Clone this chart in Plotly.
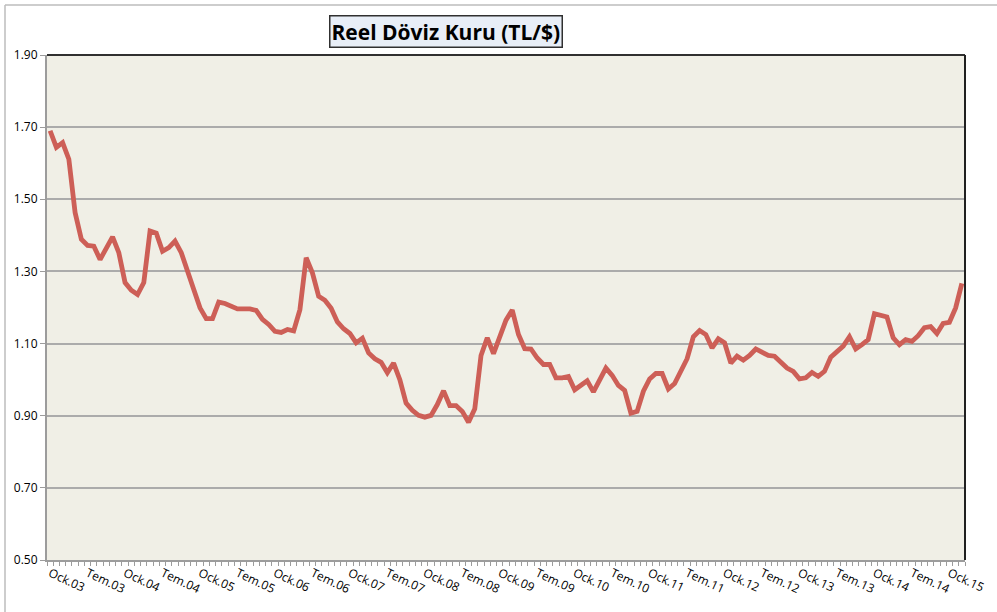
import plotly.graph_objects as go

months = list(range(147))  # Ocak 2003 .. Mart 2015, monthly
values = [
    1.690, 1.644, 1.657, 1.611, 1.463, 1.389, 1.372, 1.370, 1.333, 1.366,
    1.396, 1.352, 1.269, 1.248, 1.236, 1.269, 1.412, 1.406, 1.356, 1.366,
    1.384, 1.352, 1.296, 1.250, 1.199, 1.169, 1.169, 1.215, 1.211, 1.204,
    1.196, 1.196, 1.196, 1.192, 1.167, 1.153, 1.134, 1.131, 1.139, 1.135,
    1.194, 1.338, 1.296, 1.231, 1.220, 1.198, 1.160, 1.141, 1.128, 1.102,
    1.115, 1.074, 1.058, 1.048, 1.019, 1.046, 1.000, 0.935, 0.915, 0.901,
    0.896, 0.901, 0.931, 0.969, 0.928, 0.928, 0.912, 0.882, 0.919, 1.067,
    1.116, 1.072, 1.119, 1.165, 1.193, 1.125, 1.086, 1.085, 1.060, 1.042,
    1.042, 1.005, 1.005, 1.009, 0.972, 0.986, 0.997, 0.966, 0.996, 1.032,
    1.012, 0.984, 0.970, 0.907, 0.912, 0.968, 1.002, 1.017, 1.017, 0.974,
    0.989, 1.023, 1.058, 1.119, 1.136, 1.125, 1.088, 1.113, 1.102, 1.046,
    1.065, 1.054, 1.067, 1.085, 1.076, 1.067, 1.065, 1.048, 1.032, 1.023,
    1.002, 1.005, 1.020, 1.009, 1.023, 1.062, 1.076, 1.093, 1.119, 1.085,
    1.097, 1.111, 1.183, 1.178, 1.174, 1.116, 1.097, 1.111, 1.106, 1.122,
    1.144, 1.147, 1.128, 1.156, 1.159, 1.199, 1.267,
]
tick_positions = list(range(0, 145, 6))
tick_labels = []
for yr in range(3, 16):
    tick_labels.append(f"Ock.{yr:02d}")
    if yr < 15:
        tick_labels.append(f"Tem.{yr:02d}")
y_ticks = [0.5, 0.7, 0.9, 1.1, 1.3, 1.5, 1.7, 1.9]

fig = go.Figure()
fig.add_trace(go.Scatter(
    x=months, y=values, mode="lines",
    line=dict(color="#CD5F57", width=4.8),
    hoverinfo="x+y", showlegend=False,
))

font_family = "Open Sans, Noto Sans, sans-serif"
PW, PH = 918, 505
fig.update_layout(
    width=997, height=612,
    margin=dict(l=47, r=32, t=55, b=52, autoexpand=False),
    paper_bgcolor="white",
    plot_bgcolor="#F0EFE6",
    font=dict(family=font_family, size=12, color="black"),
    showlegend=False,
    xaxis=dict(
        range=[-0.5, 146.5],
        tickmode="array", tickvals=tick_positions, ticktext=tick_labels,
        tickangle=25, ticks="", showgrid=False, zeroline=False,
        showline=True, linecolor="#9C9C9C", linewidth=2,
        tickfont=dict(size=12, family=font_family),
        minor=dict(ticks="outside", tick0=-0.5, dtick=1, ticklen=4,
                   tickcolor="#9C9C9C", tickwidth=1, showgrid=False),
        fixedrange=True, automargin=False,
    ),
    yaxis=dict(
        range=[0.5, 1.9], tickmode="array", tickvals=y_ticks,
        tickformat=".2f", ticks="outside", ticklen=5, tickcolor="#9C9C9C",
        showgrid=True, gridcolor="#ABABAB", gridwidth=1.5,
        zeroline=False, showline=True, linecolor="#9C9C9C", linewidth=2,
        tickfont=dict(size=12, family=font_family),
        fixedrange=True, automargin=False,
    ),
    shapes=[
        # plot top and right borders
        dict(type="line", xref="paper", yref="paper", x0=0, x1=1, y0=1, y1=1,
             line=dict(color="#303030", width=2)),
        dict(type="line", xref="paper", yref="paper", x0=1, x1=1, y0=0, y1=1,
             line=dict(color="#202020", width=2)),
        # outer chart border (top and left)
        dict(type="line", xref="paper", yref="paper",
             x0=-42 / PW, x1=1 + 32 / PW, y0=1 + 50 / PH, y1=1 + 50 / PH,
             line=dict(color="#BDBDBD", width=1.5)),
        dict(type="line", xref="paper", yref="paper",
             x0=-42 / PW, x1=-42 / PW, y0=-52 / PH, y1=1 + 50 / PH,
             line=dict(color="#BDBDBD", width=1.5)),
    ],
    annotations=[
        dict(text="<b>Reel Döviz Kuru (TL/$)</b>", xref="paper", yref="paper",
             x=(446 - 47) / PW, y=1 + 23 / PH, xanchor="center", yanchor="middle",
             showarrow=False, font=dict(size=21, family=font_family, color="black"),
             bgcolor="#E8EEF7", bordercolor="#303030", borderwidth=1.5,
             borderpad=1),
    ],
)

fig.write_html("out.html", config={"displayModeBar": False},
               post_script="document.body.style.margin='0px';document.body.style.padding='0px';")
